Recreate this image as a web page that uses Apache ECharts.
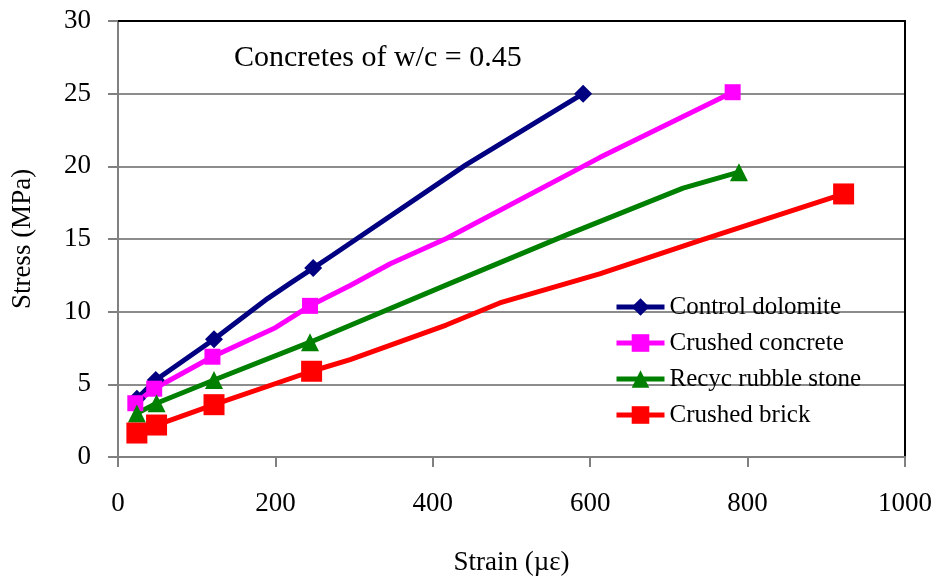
<!DOCTYPE html>
<html>
<head>
<meta charset="utf-8">
<script src="https://cdn.jsdelivr.net/npm/echarts@6/dist/echarts.min.js"></script>
<style>
  html, body { margin: 0; padding: 0; background: #fff; }
  #chart { width: 938px; height: 583px; }
</style>
</head>
<body>
<div id="chart"></div>
<script>
// strain (µε), stress (MPa); mark = 1 where the original shows a marker
const dolomiteX = [24, 48, 122, 190, 220, 248, 273, 442, 591];
const dolomiteY = [4.0, 5.3, 8.1, 10.9, 12.0, 13.0, 13.9, 20.1, 25.0];
const dolomiteMark = [1, 1, 1, 0, 0, 1, 0, 0, 1];

const concreteX = [22, 46, 120, 200, 244, 295, 346, 418, 612, 781];
const concreteY = [3.7, 4.7, 6.9, 8.9, 10.4, 11.8, 13.3, 15.05, 20.6, 25.1];
const concreteMark = [1, 1, 1, 0, 1, 0, 0, 0, 0, 1];

const rubbleX = [24, 49, 122, 244, 422, 570, 718, 789];
const rubbleY = [3.0, 3.7, 5.3, 7.9, 11.95, 15.28, 18.5, 19.6];
const rubbleMark = [1, 1, 1, 1, 0, 0, 0, 1];

const brickX = [24, 49, 122, 246, 295, 417, 485, 612, 740, 922];
const brickY = [1.65, 2.2, 3.6, 5.9, 6.7, 9.08, 10.6, 12.6, 14.9, 18.1];
const brickMark = [1, 1, 1, 1, 0, 0, 0, 0, 0, 1];

const seriesNames = ["Control dolomite", "Crushed concrete", "Recyc rubble stone", "Crushed brick"];
const xTicks = [0, 200, 400, 600, 800, 1000];
const yTicks = [0, 5, 10, 15, 20, 25, 30];

const font = "'Liberation Serif', 'Times New Roman', serif";

function points(xs, ys, marks) {
    return xs.map((x, i) => {
        const p = { value: [x, ys[i]] };
        if (!marks[i]) p.symbol = "none";
        return p;
    });
}

function line(name, data, color, symbol, size, width) {
    return {
        name: name,
        type: "line",
        data: data,
        symbol: symbol,
        symbolSize: size,
        showAllSymbol: true,
        lineStyle: { color: color, width: width },
        itemStyle: { color: color },
        emphasis: { disabled: true },
    };
}

// plain frame lines for the top and right edges of the plot
function frameAxis(pos) {
    return {
        type: "value",
        position: pos,
        min: 0,
        max: pos === "top" ? 1000 : 30,
        axisLine: { show: true, onZero: false, lineStyle: { color: "#000", width: 2 } },
        axisTick: { show: false },
        axisLabel: { show: false },
        splitLine: { show: false },
    };
}

const chart = echarts.init(document.getElementById("chart"));
chart.setOption({
    animation: false,
    title: {
        text: "Concretes of w/c = 0.45",
        left: 229,
        top: 38,
        textStyle: { fontFamily: font, fontSize: 30, fontWeight: "normal", color: "#000" },
    },
    grid: { left: 118, right: 33, top: 21, bottom: 126 },
    legend: {
        orient: "vertical",
        left: 609,
        top: 288,
        itemWidth: 48,
        itemHeight: 22,
        itemGap: 8,
        data: seriesNames,
        lineStyle: { width: 5 },
        textStyle: { fontFamily: font, fontSize: 25, color: "#000", lineHeight: 28 },
    },
    xAxis: [
        {
            type: "value",
            min: xTicks[0],
            max: xTicks[xTicks.length - 1],
            interval: 200,
            name: "Strain (µε)",
            nameLocation: "middle",
            nameGap: 92,
            nameTextStyle: { fontFamily: font, fontSize: 27, color: "#000" },
            axisLine: { onZero: false, lineStyle: { color: "#808080", width: 2 } },
            axisTick: { show: true, length: 10, lineStyle: { color: "#808080", width: 2 } },
            axisLabel: { margin: 33, fontFamily: font, fontSize: 27, color: "#000", formatter: (v) => String(v) },
            splitLine: { show: false },
        },
        frameAxis("top"),
    ],
    yAxis: [
        {
            type: "value",
            min: yTicks[0],
            max: yTicks[yTicks.length - 1],
            interval: 5,
            name: "Stress (MPa)",
            nameLocation: "middle",
            nameGap: 82,
            nameTextStyle: { fontFamily: font, fontSize: 27, color: "#000" },
            axisLine: { show: true, onZero: false, lineStyle: { color: "#808080", width: 2 } },
            axisTick: { show: true, length: 10, lineStyle: { color: "#808080", width: 2 } },
            axisLabel: { margin: 27, fontFamily: font, fontSize: 27, color: "#000" },
            splitLine: { show: true, lineStyle: { color: "#8c8c8c", width: 2 } },
        },
        frameAxis("right"),
    ],
    series: [
        line(seriesNames[0], points(dolomiteX, dolomiteY, dolomiteMark), "#000080", "diamond", 18, 5),
        line(seriesNames[1], points(concreteX, concreteY, concreteMark), "#ff00ff", "rect", 16, 5),
        line(seriesNames[2], points(rubbleX, rubbleY, rubbleMark), "#008000", "triangle", 18, 5),
        line(seriesNames[3], points(brickX, brickY, brickMark), "#ff0000", "rect", 21, 5),
    ],
});
</script>
</body>
</html>
